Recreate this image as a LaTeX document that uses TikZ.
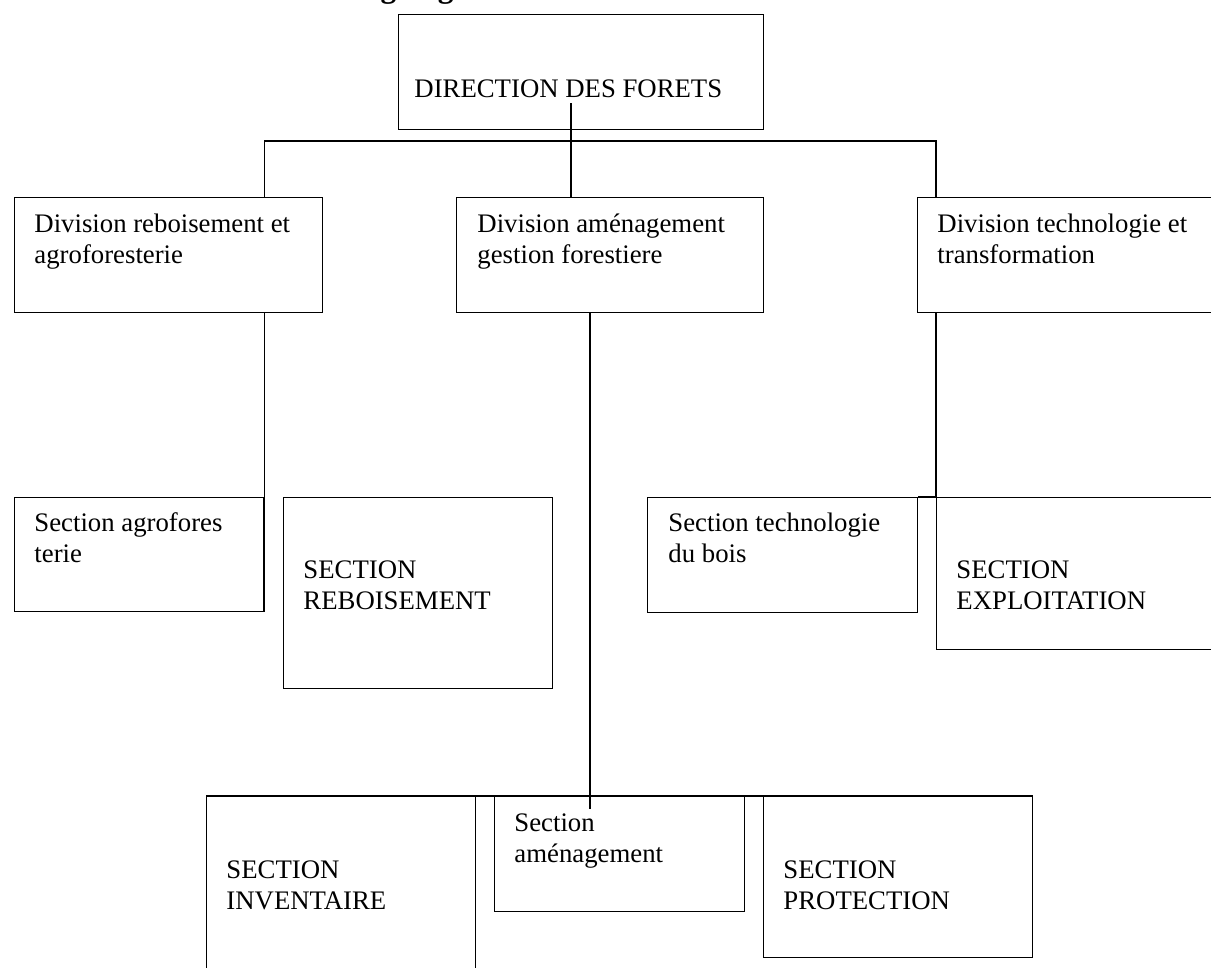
\documentclass[tikz,border=0pt]{standalone}
\usepackage{fontspec}
\setmainfont{Liberation Serif}
\usetikzlibrary{positioning}

\tikzset{
  box/.style={draw, line width=0.6pt, anchor=north west, inner sep=0pt},
  wh/.style 2 args={minimum width=#1*0.4484pt, minimum height=#2*0.4484pt},
  txt/.style={anchor=base west, align=left, inner sep=0pt},
  link/.style={line width=0.6pt}
}

\begin{document}
\begin{tikzpicture}[x=0.4484pt, y=-0.4484pt, font=\fontsize{12}{13.8}\selectfont]
  \useasboundingbox (0,0) rectangle (1211,967);

  % title, mostly above the page
  \node[anchor=base west, inner sep=0pt, font=\bfseries\fontsize{14}{16}\selectfont]
    (title) at (342,-3) {Organigramme};

  % direction
  \node[box, wh={365}{115}] (dir) at (398,14) {};
  \node[txt] (dirt) at (414,97) {DIRECTION DES FORETS};

  % divisions (text nodes sit on their last line)
  \node[box, wh={308}{115}] (divreb) at (14,197) {};
  \node[txt] (divrebt) at (34,263) {Division reboisement et\\agroforesterie};
  \node[box, wh={307}{115}] (divam) at (456,197) {};
  \node[txt] (divamt) at (477,263) {Division aménagement\\gestion forestiere};
  \node[box, wh={320}{115}] (divtech) at (917,197) {};
  \node[txt] (divtecht) at (937,263) {Division technologie et\\transformation};

  % sections, first row
  \node[box, wh={249}{114}] (secagro) at (14,497) {};
  \node[txt] (secagrot) at (34,562) {Section agrofores\\terie};
  \node[box, wh={269}{191}] (secreb) at (283,497) {};
  \node[txt] (secrebt) at (303,609) {SECTION\\REBOISEMENT};
  \node[box, wh={270}{115}] (sectech) at (647,497) {};
  \node[txt] (sectecht) at (668,562) {Section technologie\\du bois};
  \node[box, wh={300}{152}] (secexp) at (936,497) {};
  \node[txt] (secexpt) at (956,609) {SECTION\\EXPLOITATION};

  % sections, second row
  \node[box, wh={269}{200}] (secinv) at (206,796) {};
  \node[txt] (secinvt) at (226,909) {SECTION\\INVENTAIRE};
  \node[box, wh={250}{115}] (secamg) at (494,796) {};
  \node[txt] (secamgt) at (514,862) {Section\\aménagement};
  \node[box, wh={269}{161}] (secprot) at (763,796) {};
  \node[txt] (secprott) at (783,909) {SECTION\\PROTECTION};

  \coordinate (dirdot) at (571,103);
  \coordinate (hub) at (571,141);
  \coordinate (amdrop) at (590,809);

  \draw[link] (dirdot) -- (dirdot |- divam.north);
  \draw[link] (secagro.south east |- divreb.north) -- (secagro.south east |- hub)
    -- (secexp.north west |- hub) -- (secexp.north west |- divtech.north);

  \draw[link] (secagro.south east |- divreb.south) -- (secagro.south east);
  \draw[link] (amdrop |- divam.south) -- (amdrop);
  \draw[link] (secexp.north west |- divtech.south) -- (secexp.north west);
  \draw[link] (sectech.north east) -- (sectech.north east -| secexp.north west);

  \draw[link] (secinv.north west) -- (secprot.north east);

\end{tikzpicture}
\end{document}
